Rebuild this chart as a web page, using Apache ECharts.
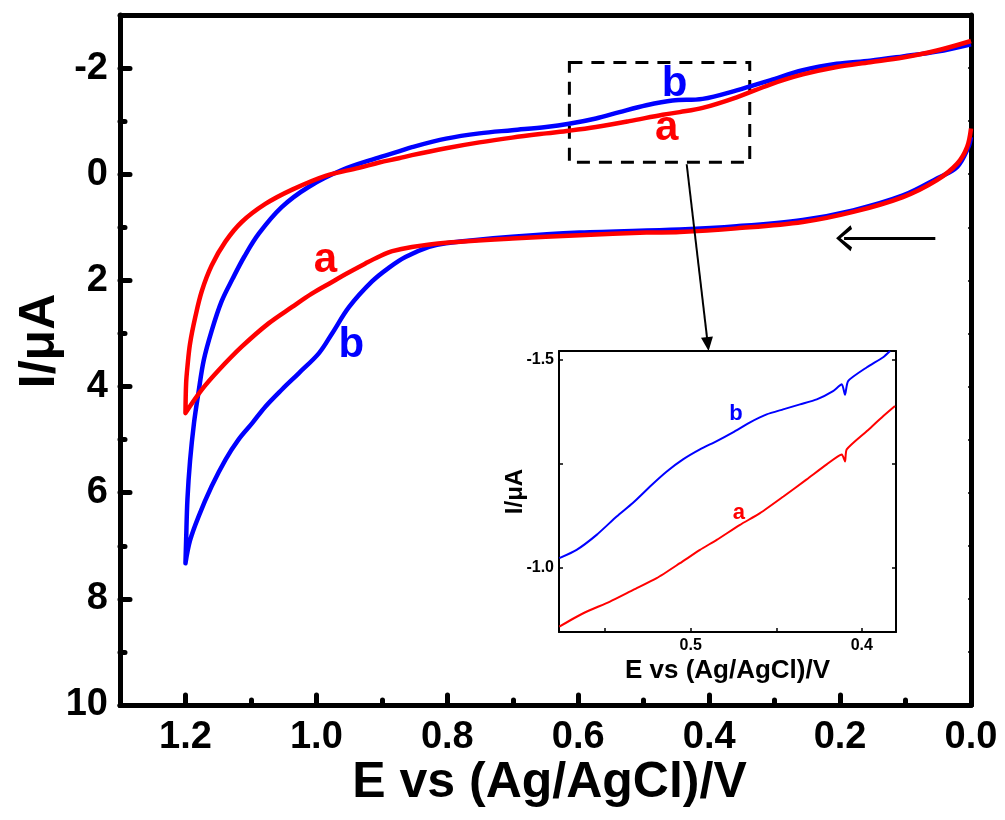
<!DOCTYPE html>
<html>
<head>
<meta charset="utf-8">
<script src="https://cdn.jsdelivr.net/npm/echarts@6/dist/echarts.min.js"></script>
<style>
  html, body { margin: 0; padding: 0; background: #fff; }
  #chart { width: 1005px; height: 820px; }
</style>
</head>
<body>
<div id="chart"></div>
<script>
// ---- main CV loops (E in V, I in uA) ----
// curve a (red): forward branch 0 -> 1.2 V, then reverse branch back to 0
const aE = [0.000, 0.006, 0.021, 0.052, 0.104, 0.180, 0.257, 0.358, 0.445, 0.496, 0.598, 0.701, 0.802, 0.854, 0.884, 0.904, 0.925, 0.955, 0.976, 1.007, 1.037, 1.073, 1.114, 1.149, 1.175, 1.200,
            1.199, 1.197, 1.193, 1.185, 1.175, 1.160, 1.139, 1.114, 1.078, 1.037, 0.986, 0.935, 0.904, 0.874, 0.854, 0.802, 0.751, 0.701, 0.649, 0.614, 0.573, 0.522, 0.471, 0.445, 0.410, 0.358, 0.307, 0.257, 0.205, 0.154, 0.104, 0.052, 0.000];
const aI = [-0.86, -0.51, -0.20, 0.11, 0.43, 0.71, 0.90, 1.02, 1.09, 1.10, 1.15, 1.21, 1.29, 1.37, 1.45, 1.55, 1.68, 1.88, 2.03, 2.25, 2.50, 2.81, 3.25, 3.69, 4.06, 4.50,
            3.94, 3.63, 3.19, 2.69, 2.20, 1.72, 1.27, 0.90, 0.56, 0.29, 0.03, -0.12, -0.22, -0.30, -0.36, -0.49, -0.60, -0.69, -0.77, -0.82, -0.89, -1.00, -1.12, -1.17, -1.25, -1.45, -1.69, -1.88, -2.02, -2.11, -2.20, -2.33, -2.51];

// curve b (blue)
const bE = [0.000, 0.004, 0.021, 0.052, 0.104, 0.180, 0.257, 0.358, 0.445, 0.598, 0.701, 0.802, 0.828, 0.864, 0.889, 0.915, 0.950, 0.976, 0.996, 1.027, 1.053, 1.078, 1.098, 1.119, 1.139, 1.160, 1.180, 1.193, 1.200,
            1.199, 1.197, 1.193, 1.187, 1.180, 1.172, 1.160, 1.145, 1.128, 1.110, 1.088, 1.053, 1.012, 0.961, 0.909, 0.874, 0.854, 0.802, 0.751, 0.701, 0.649, 0.614, 0.573, 0.537, 0.496, 0.456, 0.410, 0.358, 0.307, 0.257, 0.205, 0.154, 0.104, 0.052, 0.000];
const bI = [-0.70, -0.51, -0.14, 0.08, 0.40, 0.68, 0.86, 0.98, 1.04, 1.10, 1.18, 1.30, 1.37, 1.56, 1.76, 2.02, 2.50, 3.00, 3.37, 3.75, 4.06, 4.38, 4.69, 5.00, 5.38, 5.88, 6.45, 6.90, 7.33,
            6.90, 6.13, 5.40, 4.69, 4.10, 3.50, 2.95, 2.40, 1.97, 1.55, 1.12, 0.62, 0.24, -0.08, -0.30, -0.43, -0.51, -0.67, -0.77, -0.83, -0.89, -0.95, -1.05, -1.17, -1.30, -1.39, -1.42, -1.58, -1.77, -1.96, -2.08, -2.14, -2.22, -2.31, -2.45];

// ---- inset (zoom of the dashed box) ----
const insetBE = [0.5768, 0.5667, 0.5550, 0.5433, 0.5337, 0.5238, 0.5140, 0.5045, 0.4946, 0.4848, 0.4753, 0.4653, 0.4556, 0.4460, 0.4361, 0.4263, 0.4168, 0.4117, 0.4098, 0.4080, 0.3970, 0.3875, 0.3835];
const insetBI = [-1.023, -1.043, -1.079, -1.123, -1.156, -1.195, -1.231, -1.260, -1.284, -1.304, -1.325, -1.349, -1.368, -1.380, -1.392, -1.404, -1.424, -1.440, -1.415, -1.448, -1.481, -1.505, -1.520];
const insetAE = [0.5768, 0.5628, 0.5472, 0.5336, 0.5199, 0.5063, 0.4946, 0.4848, 0.4712, 0.4595, 0.4458, 0.4322, 0.4205, 0.4117, 0.4098, 0.4088, 0.3970, 0.3874, 0.3806];
const insetAI = [-0.859, -0.891, -0.919, -0.947, -0.975, -1.011, -1.043, -1.067, -1.103, -1.131, -1.171, -1.212, -1.248, -1.272, -1.255, -1.284, -1.328, -1.364, -1.388];

// ---- ticks ----
const mainXMajor = [0, 0.2, 0.4, 0.6, 0.8, 1.0, 1.2];
const mainXMinor = [0.1, 0.3, 0.5, 0.7, 0.9, 1.1];
const mainXTop = [0.1, 0.2, 0.3, 0.4, 0.5, 0.6, 0.7, 0.8, 0.9, 1.0, 1.1, 1.2];
const mainYMajor = [-2, 0, 2, 4, 6, 8, 10];
const mainYMinor = [-1, 1, 3, 5, 7, 9];
const mainYRight = [-2, -1, 0, 1, 2, 3, 4, 5, 6, 7, 8, 9];
const insetXTicks = [0.4, 0.45, 0.5, 0.55];
const insetXLabels = [0.4, 0.5];
const insetYTicks = [-1.5, -1.25, -1.0];
const insetYLabels = [-1.5, -1.0];

// ---- annotations (data coordinates) ----
const zoomBox = [[0.6135, -2.107], [0.338, -0.226]];
const pointerLine = [[0.4343, -0.188], [0.4021, 3.20]];
const scanArrow = [[0.0545, 1.204], [0.1939, 1.204]];
const mainLabels = [
  { text: 'a', at: [0.986, 1.618], color: '#ff0000' },
  { text: 'b', at: [0.9466, 3.217], color: '#0000ff' },
  { text: 'b', at: [0.4527, -1.693], color: '#0000ff' },
  { text: 'a', at: [0.4649, -0.865], color: '#ff0000' }
];
const insetLabels = [
  { text: 'b', at: [0.4735, -1.368], color: '#0000ff' },
  { text: 'a', at: [0.4718, -1.132], color: '#ff0000' }
];

const FONT = 'Arial, "Liberation Sans", sans-serif';
const zip = (xs, ys) => xs.map((x, i) => [x, ys[i]]);
const fmt1 = v => Number(v).toFixed(1);
// open chevron, tip at the top of its box
const CHEVRON = 'path://M0,19 L10,0 L20,19 L17,21 L10,6 L3,21 Z';

const chart = echarts.init(document.getElementById('chart'), null, { renderer: 'canvas' });

function textPoint(l, size) {
  return {
    coord: l.at,
    symbol: 'circle',
    symbolSize: 1,
    itemStyle: { color: 'rgba(0,0,0,0)' },
    label: {
      show: true, position: 'inside', formatter: l.text,
      color: l.color, fontSize: size, fontWeight: 'bold', fontFamily: FONT
    }
  };
}

// frame line helper: never sit on zero
const frameLine = (width, show = true) => ({ show, onZero: false, lineStyle: { color: '#000', width } });

const option = {
  animation: false,
  backgroundColor: '#fff',
  grid: [
    { left: 120, top: 15, width: 851, height: 690, outerBoundsMode: 'none', containLabel: false },
    { left: 559, top: 351, width: 337, height: 281, outerBoundsMode: 'none', containLabel: false,
      show: true, backgroundColor: '#fff', borderWidth: 0 }
  ],
  xAxis: [
    { // main bottom
      gridIndex: 0, type: 'value', min: 0, max: 1.3, inverse: true, position: 'bottom',
      axisLine: frameLine(5),
      axisTick: { inside: true, length: 10, customValues: mainXMajor, lineStyle: { color: '#000', width: 5, cap: 'round' } },
      axisLabel: { customValues: mainXMajor, formatter: fmt1, color: '#000', fontSize: 38, fontWeight: 'bold', fontFamily: FONT, margin: 14 },
      splitLine: { show: false },
      name: 'E vs (Ag/AgCl)/V', nameLocation: 'middle', nameGap: 53, nameMoveOverlap: false,
      nameTextStyle: { color: '#000', fontSize: 50, fontWeight: 'bold', fontFamily: FONT, padding: [0, 0, 0, 8] }
    },
    { // main bottom minor ticks
      gridIndex: 0, type: 'value', min: 0, max: 1.3, inverse: true, position: 'bottom',
      axisLine: frameLine(5, false),
      axisTick: { inside: true, length: 5, customValues: mainXMinor, lineStyle: { color: '#000', width: 5, cap: 'round' } },
      axisLabel: { show: false }, splitLine: { show: false }
    },
    { // main top frame
      gridIndex: 0, type: 'value', min: 0, max: 1.3, inverse: true, position: 'top',
      axisLine: frameLine(5),
      axisTick: { inside: true, length: 3, customValues: mainXTop, lineStyle: { color: '#000', width: 1.5 } },
      axisLabel: { show: false }, splitLine: { show: false }
    },
    { // inset bottom
      gridIndex: 1, type: 'value', min: 0.38, max: 0.577, inverse: true, position: 'bottom',
      axisLine: frameLine(2),
      axisTick: { inside: true, length: 4, customValues: insetXTicks, lineStyle: { color: '#000', width: 1.5 } },
      axisLabel: { customValues: insetXLabels, formatter: fmt1, color: '#000', fontSize: 16, fontWeight: 'bold', fontFamily: FONT, margin: 6 },
      splitLine: { show: false },
      name: 'E vs (Ag/AgCl)/V', nameLocation: 'middle', nameGap: 26, nameMoveOverlap: false,
      nameTextStyle: { color: '#000', fontSize: 26, fontWeight: 'bold', fontFamily: FONT }
    },
    { // inset top frame
      gridIndex: 1, type: 'value', min: 0.38, max: 0.577, inverse: true, position: 'top',
      axisLine: frameLine(2),
      axisTick: { show: false }, axisLabel: { show: false }, splitLine: { show: false }
    }
  ],
  yAxis: [
    { // main left
      gridIndex: 0, type: 'value', min: -3, max: 10, inverse: true, position: 'left',
      axisLine: frameLine(5),
      axisTick: { inside: true, length: 10, customValues: mainYMajor, lineStyle: { color: '#000', width: 5, cap: 'round' } },
      axisLabel: { customValues: mainYMajor, color: '#000', fontSize: 38, fontWeight: 'bold', fontFamily: FONT, margin: 12 },
      splitLine: { show: false },
      name: 'I/\u03bcA', nameLocation: 'middle', nameGap: 55, nameRotate: 90, nameMoveOverlap: false,
      nameTextStyle: { color: '#000', fontSize: 50, fontWeight: 'bold', fontFamily: FONT, padding: [0, 0, 0, 38] }
    },
    { // main left minor ticks
      gridIndex: 0, type: 'value', min: -3, max: 10, inverse: true, position: 'left',
      axisLine: frameLine(5, false),
      axisTick: { inside: true, length: 5, customValues: mainYMinor, lineStyle: { color: '#000', width: 5, cap: 'round' } },
      axisLabel: { show: false }, splitLine: { show: false }
    },
    { // main right frame
      gridIndex: 0, type: 'value', min: -3, max: 10, inverse: true, position: 'right',
      axisLine: frameLine(5),
      axisTick: { inside: true, length: 3, customValues: mainYRight, lineStyle: { color: '#000', width: 1.5 } },
      axisLabel: { show: false }, splitLine: { show: false }
    },
    { // inset left
      gridIndex: 1, type: 'value', min: -1.52, max: -0.846, inverse: true, position: 'left',
      axisLine: frameLine(2),
      axisTick: { inside: true, length: 4, customValues: insetYTicks, lineStyle: { color: '#000', width: 1.5 } },
      axisLabel: { customValues: insetYLabels, formatter: fmt1, color: '#000', fontSize: 16, fontWeight: 'bold', fontFamily: FONT, margin: 5 },
      splitLine: { show: false },
      name: 'I/\u03bcA', nameLocation: 'middle', nameGap: 32, nameRotate: 90, nameMoveOverlap: false,
      nameTextStyle: { color: '#000', fontSize: 24, fontWeight: 'bold', fontFamily: FONT }
    },
    { // inset right frame
      gridIndex: 1, type: 'value', min: -1.52, max: -0.846, inverse: true, position: 'right',
      axisLine: frameLine(2),
      axisTick: { inside: true, length: 4, customValues: insetYTicks, lineStyle: { color: '#000', width: 1.5 } },
      axisLabel: { show: false }, splitLine: { show: false }
    }
  ],
  series: [
    {
      name: 'b', type: 'line', xAxisIndex: 0, yAxisIndex: 0,
      data: zip(bE, bI), showSymbol: false, symbol: 'none', smooth: 0.35,
      lineStyle: { color: '#0000ff', width: 4.5, join: 'round' }
    },
    {
      name: 'a', type: 'line', xAxisIndex: 0, yAxisIndex: 0,
      data: zip(aE, aI), showSymbol: false, symbol: 'none', smooth: 0.35,
      lineStyle: { color: '#ff0000', width: 4.5, join: 'round' }
    },
    { // annotations on the main plot
      name: 'notes', type: 'line', xAxisIndex: 0, yAxisIndex: 0, data: [], silent: true,
      markArea: {
        silent: true,
        itemStyle: { color: 'rgba(0,0,0,0)', borderColor: '#000', borderWidth: 3, borderType: [13, 9] },
        label: { show: false },
        data: [[{ coord: zoomBox[0] }, { coord: zoomBox[1] }]]
      },
      markLine: {
        silent: true,
        label: { show: false },
        emphasis: { disabled: true },
        data: [
          [
            { coord: pointerLine[0], symbol: 'none', lineStyle: { color: '#000', width: 2, type: 'solid' } },
            { coord: pointerLine[1], symbol: 'triangle', symbolSize: [12, 14] }
          ],
          [
            { coord: scanArrow[0], symbol: 'none', lineStyle: { color: '#000', width: 3, type: 'solid' } },
            { coord: scanArrow[1], symbol: CHEVRON, symbolSize: [26, 16] }
          ]
        ]
      },
      markPoint: {
        silent: true,
        data: mainLabels.map(l => textPoint(l, 42))
      }
    },
    {
      name: 'inset b', type: 'line', xAxisIndex: 3, yAxisIndex: 3,
      data: zip(insetBE, insetBI), showSymbol: false, symbol: 'none', smooth: 0.2,
      lineStyle: { color: '#0000ff', width: 2 }
    },
    {
      name: 'inset a', type: 'line', xAxisIndex: 3, yAxisIndex: 3,
      data: zip(insetAE, insetAI), showSymbol: false, symbol: 'none', smooth: 0.2,
      lineStyle: { color: '#ff0000', width: 2 },
      markPoint: {
        silent: true,
        data: insetLabels.map(l => textPoint(l, 22))
      }
    }
  ]
};

chart.setOption(option, true);
</script>
</body>
</html>
